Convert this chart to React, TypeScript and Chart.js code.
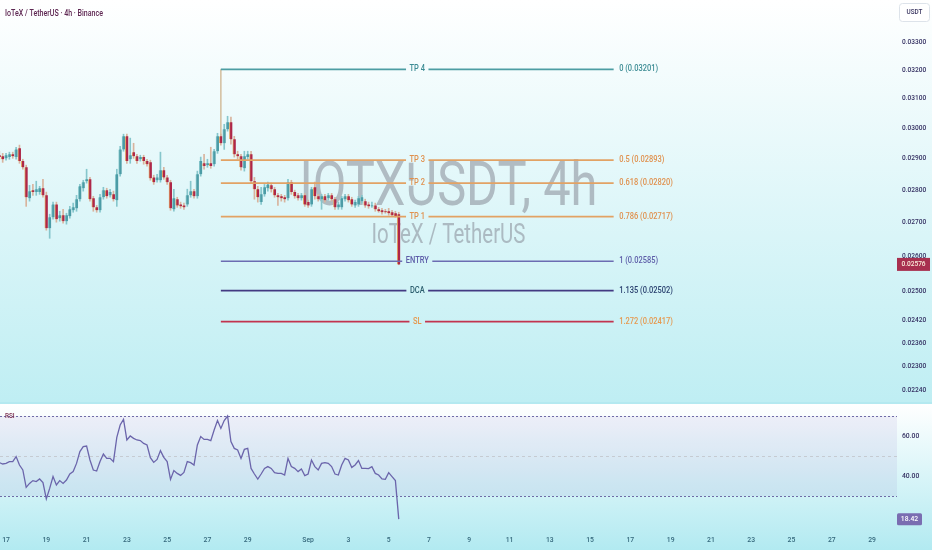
import React, { useEffect, useRef } from "react";
import { Chart, registerables } from "chart.js";

Chart.register(...registerables);

// ---------- time axis (days counted from 17 Aug 00:00, 4h bars) ----------
const FIRST_BAR_DAY = -1 / 3; // 16 Aug 16:00
const BAR_DAYS = 4 / 24;
const X_MIN = -0.3;
const X_MAX = 44.24;

const DATE_TICK_DAYS = [0, 2, 4, 6, 8, 10, 12, 15, 17, 19, 21, 23, 25, 27, 29, 31, 33, 35, 37, 39, 41, 43];
const DATE_TICK_LABELS = ["17", "19", "21", "23", "25", "27", "29", "Sep", "3", "5", "7", "9", "11", "13", "15", "17", "19", "21", "23", "25", "27", "29"];

// ---------- IOTXUSDT 4h candles ----------
const OPEN = [
  0.02909, 0.02906, 0.02899, 0.02903, 0.02912, 0.02903, 0.02932, 0.02890, 0.02870, 0.02773,
  0.02798, 0.02792, 0.02792, 0.02804, 0.02782, 0.02682, 0.02715, 0.02754, 0.02712, 0.02721,
  0.02703, 0.02718, 0.02736, 0.02742, 0.02770, 0.02804, 0.02826, 0.02832, 0.02773, 0.02745,
  0.02736, 0.02776, 0.02798, 0.02782, 0.02785, 0.02767, 0.02848, 0.02928, 0.02971, 0.02896,
  0.02919, 0.02906, 0.02896, 0.02903, 0.02890, 0.02886, 0.02838, 0.02829, 0.02829, 0.02861,
  0.02838, 0.02823, 0.02739, 0.02770, 0.02754, 0.02751, 0.02754, 0.02782, 0.02795, 0.02779,
  0.02848, 0.02883, 0.02877, 0.02883, 0.02880, 0.02922, 0.02971, 0.02948, 0.02994, 0.03018,
  0.02961, 0.02912, 0.02906, 0.02867, 0.02903, 0.02912, 0.02826, 0.02801, 0.02761, 0.02785,
  0.02804, 0.02813, 0.02801, 0.02782, 0.02779, 0.02776, 0.02773, 0.02823, 0.02792, 0.02782,
  0.02773, 0.02782, 0.02761, 0.02754, 0.02807, 0.02779, 0.02770, 0.02779, 0.02773, 0.02782,
  0.02770, 0.02745, 0.02745, 0.02770, 0.02779, 0.02770, 0.02751, 0.02754, 0.02764, 0.02764,
  0.02754, 0.02748, 0.02751, 0.02739, 0.02736, 0.02733, 0.02733, 0.02730, 0.02727, 0.02724,
];
const HIGH = [
  0.02922, 0.02915, 0.02915, 0.02919, 0.02919, 0.02935, 0.02942, 0.02896, 0.02877, 0.02813,
  0.02816, 0.02826, 0.02810, 0.02832, 0.02792, 0.02724, 0.02761, 0.02761, 0.02733, 0.02739,
  0.02727, 0.02748, 0.02758, 0.02782, 0.02816, 0.02829, 0.02864, 0.02838, 0.02779, 0.02751,
  0.02785, 0.02807, 0.02804, 0.02801, 0.02795, 0.02864, 0.02938, 0.02978, 0.02978, 0.02965,
  0.02948, 0.02912, 0.02909, 0.02909, 0.02896, 0.02893, 0.02845, 0.02848, 0.02919, 0.02870,
  0.02845, 0.02829, 0.02801, 0.02776, 0.02761, 0.02758, 0.02801, 0.02826, 0.02801, 0.02858,
  0.02903, 0.02912, 0.02896, 0.02935, 0.02928, 0.02981, 0.02978, 0.03011, 0.03038, 0.03035,
  0.02971, 0.02922, 0.02912, 0.02922, 0.02922, 0.02922, 0.02838, 0.02810, 0.02807, 0.02816,
  0.02823, 0.02820, 0.02807, 0.02788, 0.02785, 0.02782, 0.02832, 0.02829, 0.02798, 0.02788,
  0.02788, 0.02788, 0.02767, 0.02807, 0.02823, 0.02785, 0.02785, 0.02785, 0.02788, 0.02788,
  0.02776, 0.02761, 0.02779, 0.02785, 0.02785, 0.02776, 0.02767, 0.02779, 0.02782, 0.02770,
  0.02761, 0.02761, 0.02758, 0.02745, 0.02742, 0.02739, 0.02742, 0.02736, 0.02733, 0.02730,
];
const LOW = [
  0.02896, 0.02886, 0.02893, 0.02896, 0.02899, 0.02896, 0.02883, 0.02864, 0.02748, 0.02764,
  0.02782, 0.02782, 0.02785, 0.02776, 0.02676, 0.02652, 0.02709, 0.02700, 0.02703, 0.02697,
  0.02694, 0.02712, 0.02730, 0.02733, 0.02764, 0.02795, 0.02820, 0.02764, 0.02733, 0.02730,
  0.02730, 0.02770, 0.02773, 0.02776, 0.02764, 0.02748, 0.02842, 0.02922, 0.02883, 0.02883,
  0.02899, 0.02883, 0.02890, 0.02880, 0.02874, 0.02829, 0.02816, 0.02823, 0.02823, 0.02832,
  0.02816, 0.02736, 0.02733, 0.02745, 0.02742, 0.02739, 0.02748, 0.02776, 0.02773, 0.02773,
  0.02842, 0.02864, 0.02870, 0.02867, 0.02874, 0.02915, 0.02942, 0.02928, 0.02988, 0.02945,
  0.02903, 0.02896, 0.02861, 0.02858, 0.02896, 0.02820, 0.02770, 0.02761, 0.02754, 0.02779,
  0.02795, 0.02792, 0.02776, 0.02751, 0.02764, 0.02761, 0.02767, 0.02785, 0.02773, 0.02767,
  0.02767, 0.02748, 0.02745, 0.02748, 0.02770, 0.02764, 0.02739, 0.02761, 0.02767, 0.02764,
  0.02739, 0.02739, 0.02739, 0.02764, 0.02761, 0.02748, 0.02745, 0.02748, 0.02758, 0.02745,
  0.02742, 0.02745, 0.02733, 0.02730, 0.02724, 0.02727, 0.02721, 0.02718, 0.02715, 0.02575,
];
const CLOSE = [
  0.02903, 0.02896, 0.02909, 0.02912, 0.02906, 0.02928, 0.02890, 0.02870, 0.02776, 0.02795,
  0.02792, 0.02801, 0.02804, 0.02782, 0.02682, 0.02715, 0.02754, 0.02709, 0.02721, 0.02703,
  0.02721, 0.02739, 0.02745, 0.02770, 0.02810, 0.02823, 0.02832, 0.02770, 0.02745, 0.02736,
  0.02776, 0.02798, 0.02779, 0.02792, 0.02770, 0.02848, 0.02928, 0.02971, 0.02890, 0.02909,
  0.02906, 0.02890, 0.02903, 0.02890, 0.02880, 0.02835, 0.02823, 0.02838, 0.02861, 0.02838,
  0.02823, 0.02742, 0.02773, 0.02751, 0.02748, 0.02745, 0.02782, 0.02795, 0.02779, 0.02848,
  0.02890, 0.02874, 0.02883, 0.02874, 0.02922, 0.02971, 0.02948, 0.02994, 0.03018, 0.02961,
  0.02912, 0.02906, 0.02870, 0.02906, 0.02912, 0.02826, 0.02801, 0.02776, 0.02785, 0.02807,
  0.02816, 0.02801, 0.02782, 0.02776, 0.02773, 0.02770, 0.02823, 0.02792, 0.02779, 0.02773,
  0.02782, 0.02754, 0.02751, 0.02801, 0.02779, 0.02770, 0.02779, 0.02767, 0.02782, 0.02770,
  0.02745, 0.02754, 0.02773, 0.02779, 0.02767, 0.02754, 0.02761, 0.02773, 0.02776, 0.02751,
  0.02748, 0.02751, 0.02739, 0.02733, 0.02730, 0.02730, 0.02727, 0.02721, 0.02718, 0.02576,
];

// ---------- RSI(14) ----------
const RSI = [
  46.7, 46, 46.3, 47.2, 47.2, 49.7, 45.5, 43, 34.3, 36.3,
  37.7, 37.2, 38.5, 36.7, 28.5, 33.8, 39.7, 35.5, 37.7, 36.3,
  38, 41, 42.2, 46.3, 52.2, 54.7, 55, 48, 43, 42.5,
  47.2, 51, 48.8, 48.8, 47.2, 59.3, 65.5, 68.3, 58, 60,
  58.8, 58, 57.7, 56.3, 55.5, 49.2, 46.8, 48.3, 52.7, 49.3,
  47.2, 38.3, 42.7, 41.3, 40.3, 41.8, 47.2, 46.7, 45.5, 55.5,
  59.7, 58.3, 58.3, 57.7, 63, 67.7, 63.8, 67.7, 70, 57.2,
  53.8, 53, 48.8, 53.3, 53.8, 43.8, 41, 38.5, 41, 43.8,
  44.7, 43.8, 41.7, 41.3, 41.3, 40.5, 48.8, 44.7, 43.8, 42.2,
  43.5, 40.2, 41, 48, 44.7, 43, 46.3, 46.7, 46.3, 44.7,
  41, 40.5, 45.5, 48.8, 48, 44.3, 45.5, 47.7, 43.8, 43.8,
  43.7, 44.7, 41.3, 40.5, 38.5, 38.3, 41.7, 39.7, 37.7, 18.42,
];
const RSI_LEVELS = [70, 50, 30];
const RSI_TICKS = [60, 40];
const RSI_MIN = 12;
const RSI_MAX = 76;

// ---------- price axis ----------
const PRICE_TICKS = [0.033, 0.032, 0.031, 0.03, 0.029, 0.028, 0.027, 0.026, 0.025, 0.0242, 0.0236, 0.023, 0.0224];
const PRICE_MIN = 0.0221;
const PRICE_MAX = 0.03458;

// ---------- Fibonacci / trade plan ----------
const FIB_START_DAY = 10 + 16 / 24; // 27 Aug 16:00
const FIB_END_DAY = 30.17;
const FIB_NAMES = ["TP 4", "TP 3", "TP 2", "TP 1", "ENTRY", "DCA", "SL"];
const FIB_RATIOS = ["0", "0.5", "0.618", "0.786", "1", "1.135", "1.272"];
const FIB_PRICES = [0.03201, 0.02893, 0.0282, 0.02717, 0.02585, 0.02502, 0.02417];
const FIB_ANCHOR_LOW = 0.0296;

// ---------- texts ----------
const TITLE = "IoTeX / TetherUS · 4h · Binance";
const WATERMARK_1 = "IOTXUSDT, 4h";
const WATERMARK_2 = "IoTeX / TetherUS";
const CURRENCY = "USDT";

// ---------- styles ----------
const FONT = 'Roboto, "Noto Sans", "DejaVu Sans", sans-serif';
const UP_BODY = "#4c9ca6";
const DOWN_BODY = "#ae2749";
const UP_EDGE = "#86c6cc";
const DOWN_EDGE = "#e2a062";
const UP_WICK = "#86c6cc";
const DOWN_WICK = "#d8b39d";
const FIB_LINE_COLORS = ["#4c9da3", "#e2a264", "#e2a264", "#e2a264", "#6c6cb2", "#433a82", "#c2344f"];
const FIB_NAME_COLORS = ["#3c8c94", "#e0914e", "#e0914e", "#e0914e", "#5c5ca8", "#2c5e6e", "#e6994f"];
const FIB_VALUE_COLORS = ["#3c8c94", "#e0914e", "#e0914e", "#e0914e", "#5c5ca8", "#2b4270", "#e6994f"];
const AXIS_TEXT = "#343062";
const DATE_TEXT = "#33667a";

function drawText(ctx: any, s: string, x: number, y: number, size: number, color: string, align = "left", sx = 1, weight = "500") {
  ctx.save();
  ctx.font = `${weight} ${size}px ${FONT}`;
  ctx.fillStyle = color;
  ctx.textAlign = "left";
  ctx.textBaseline = "middle";
  const w = ctx.measureText(s).width * sx;
  const x0 = align === "center" ? x - w / 2 : align === "right" ? x - w : x;
  ctx.translate(x0, y);
  ctx.scale(sx, 1);
  ctx.fillText(s, 0, 0);
  ctx.restore();
  return w;
}

function fitText(ctx: any, s: string, x: number, baseline: number, size: number, targetW: number, color: string, align = "left", weight = "400") {
  ctx.save();
  ctx.font = `${weight} ${size}px ${FONT}`;
  ctx.fillStyle = color;
  ctx.textAlign = "left";
  ctx.textBaseline = "alphabetic";
  const m = ctx.measureText(s).width;
  const sx = targetW / m;
  const x0 = align === "center" ? x - targetW / 2 : x;
  ctx.translate(x0, baseline);
  ctx.scale(sx, 1);
  ctx.fillText(s, 0, 0);
  ctx.restore();
}

function measure(ctx: any, s: string, size: number, sx: number, weight = "500") {
  ctx.save();
  ctx.font = `${weight} ${size}px ${FONT}`;
  const w = ctx.measureText(s).width * sx;
  ctx.restore();
  return w;
}

const BAR_TIMES = OPEN.map((_, i) => FIRST_BAR_DAY + i * BAR_DAYS);

function mainConfig(): any {
  const up = OPEN.map((o, i) => CLOSE[i] >= o);
  const mainPlugin = {
    id: "mainDeco",
    beforeDraw(chart: any) {
      const { ctx, width, height } = chart;
      const g = ctx.createLinearGradient(0, 0, 0, height);
      g.addColorStop(0, "#ffffff");
      g.addColorStop(1, "#bfeef3");
      chart.$bg = g;
      ctx.save();
      ctx.fillStyle = g;
      ctx.fillRect(0, 0, width, height);
      ctx.restore();
    },
    beforeDatasetsDraw(chart: any) {
      const { ctx, chartArea } = chart;
      const cx = (chartArea.left + chartArea.right) / 2;
      fitText(ctx, WATERMARK_1, cx, 205, 62, 298, "rgba(125,128,140,0.5)", "center");
      fitText(ctx, WATERMARK_2, cx, 243, 28, 154, "rgba(125,128,140,0.5)", "center");
    },
    afterDatasetsDraw(chart: any) {
      const { ctx } = chart;
      const xs = chart.scales.x;
      const ys = chart.scales.y;
      const x1 = xs.getPixelForValue(FIB_START_DAY);
      const x2 = xs.getPixelForValue(FIB_END_DAY);
      const cx = (x1 + x2) / 2;
      const size = 8.5;
      const sx = 0.88;
      FIB_PRICES.forEach((p, i) => {
        const y = ys.getPixelForValue(p);
        const w = measure(ctx, FIB_NAMES[i], size, sx);
        ctx.save();
        ctx.fillStyle = chart.$bg;
        ctx.fillRect(cx - w / 2 - 3.5, y - 2.5, w + 7, 5);
        ctx.restore();
        drawText(ctx, FIB_NAMES[i], cx, y, size, FIB_NAME_COLORS[i], "center", sx);
        drawText(ctx, `${FIB_RATIOS[i]} (${p.toFixed(5)})`, x2 + 5.5, y, size, FIB_VALUE_COLORS[i], "left", sx);
      });
    },
    afterDraw(chart: any) {
      const { ctx, chartArea } = chart;
      const ys = chart.scales.y;
      PRICE_TICKS.forEach((v) => {
        drawText(ctx, v.toFixed(5), chartArea.right + 5, ys.getPixelForValue(v), 8, AXIS_TEXT, "left", 0.82);
      });
      const last = CLOSE[CLOSE.length - 1];
      const yl = ys.getPixelForValue(last);
      ctx.save();
      ctx.fillStyle = "#a8304f";
      ctx.fillRect(chartArea.right, yl - 6.5, 33, 13);
      ctx.restore();
      drawText(ctx, last.toFixed(5), chartArea.right + 16.5, yl, 8, "#fbefdc", "center", 0.82);
      ctx.save();
      ctx.fillStyle = "#ffffff";
      ctx.strokeStyle = "#dde3ea";
      ctx.lineWidth = 1;
      ctx.beginPath();
      ctx.roundRect(899.5, 3.5, 30, 18, 3);
      ctx.fill();
      ctx.stroke();
      ctx.restore();
      drawText(ctx, CURRENCY, 914.5, 12.5, 7.5, "#3a3560", "center", 0.85);
      fitText(ctx, TITLE, 5, 16, 8.5, 98, "#5e2752", "left", "500");
    },
  };

  return {
    type: "bar",
    data: {
      datasets: [
        {
          type: "line",
          data: [
            { x: FIB_START_DAY, y: FIB_PRICES[0] },
            { x: FIB_START_DAY, y: FIB_ANCHOR_LOW },
          ],
          borderColor: "#d3bd9d",
          borderWidth: 1.5,
          pointRadius: 0,
          order: 10,
        },
        {
          type: "bar",
          data: BAR_TIMES.map((t, i) => ({ x: t, y: [LOW[i], HIGH[i]] })),
          backgroundColor: up.map((u) => (u ? UP_WICK : DOWN_WICK)),
          barThickness: 1,
          grouped: false,
          order: 6,
        },
        {
          type: "bar",
          data: BAR_TIMES.map((t, i) => ({ x: t, y: [OPEN[i], CLOSE[i]] })),
          backgroundColor: up.map((u) => (u ? UP_BODY : DOWN_BODY)),
          borderColor: up.map((u) => (u ? UP_EDGE : DOWN_EDGE)),
          borderWidth: { left: 1, right: 0, top: 0, bottom: 0 },
          borderSkipped: false,
          barThickness: 3,
          grouped: false,
          order: 5,
        },
        ...FIB_PRICES.map((p, i) => ({
          type: "line",
          data: [
            { x: FIB_START_DAY, y: p },
            { x: FIB_END_DAY, y: p },
          ],
          borderColor: FIB_LINE_COLORS[i],
          borderWidth: 1.7,
          pointRadius: 0,
          order: 1,
        })),
      ],
    },
    options: {
      responsive: false,
      animation: false,
      events: [],
      layout: { padding: 0 },
      plugins: { legend: { display: false }, tooltip: { enabled: false } },
      scales: {
        x: {
          type: "linear",
          min: X_MIN,
          max: X_MAX,
          offset: false,
          display: false,
        },
        y: {
          type: "logarithmic",
          position: "right",
          min: PRICE_MIN,
          max: PRICE_MAX,
          bounds: "data",
          grid: { display: false, drawTicks: false },
          border: { display: false },
          ticks: { display: false },
          afterBuildTicks: (s: any) => {
            s.ticks = PRICE_TICKS.map((v) => ({ value: v }));
          },
          afterFit: (s: any) => {
            s.width = 35;
          },
        },
      },
    },
    plugins: [mainPlugin],
  };
}

function rsiConfig(): any {
  const rsiPlugin = {
    id: "rsiDeco",
    beforeDraw(chart: any) {
      const { ctx, width, height, chartArea } = chart;
      const ys = chart.scales.y;
      const g = ctx.createLinearGradient(0, 0, 0, height);
      g.addColorStop(0, "#ffffff");
      g.addColorStop(1, "#b2eaf1");
      ctx.save();
      ctx.fillStyle = g;
      ctx.fillRect(0, 0, width, height);
      const yTop = ys.getPixelForValue(RSI_LEVELS[0]);
      const yBot = ys.getPixelForValue(RSI_LEVELS[2]);
      ctx.fillStyle = "rgba(126,87,194,0.09)";
      ctx.fillRect(chartArea.left, yTop, chartArea.right - chartArea.left, yBot - yTop);
      RSI_LEVELS.forEach((lv, i) => {
        const y = Math.round(ys.getPixelForValue(lv)) + 0.5;
        ctx.beginPath();
        ctx.setLineDash(i === 1 ? [3, 3] : [2, 2]);
        ctx.strokeStyle = i === 1 ? "#c6cbd2" : "#6f6ba7";
        ctx.lineWidth = 1;
        ctx.moveTo(chartArea.left, y);
        ctx.lineTo(chartArea.right, y);
        ctx.stroke();
      });
      ctx.restore();
    },
    afterDraw(chart: any) {
      const { ctx, chartArea } = chart;
      const xs = chart.scales.x;
      const ys = chart.scales.y;
      RSI_TICKS.forEach((v) => {
        drawText(ctx, v.toFixed(2), chartArea.right + 5, ys.getPixelForValue(v), 8, AXIS_TEXT, "left", 0.85);
      });
      const last = RSI[RSI.length - 1];
      const yl = ys.getPixelForValue(last);
      ctx.save();
      ctx.fillStyle = "#7a6db1";
      ctx.beginPath();
      ctx.roundRect(chartArea.right, yl - 6, 25, 12, 1.5);
      ctx.fill();
      ctx.restore();
      drawText(ctx, last.toFixed(2), chartArea.right + 12.5, yl, 8, "#ffffff", "center", 0.85);
      drawText(ctx, "RSI", 5, 12, 7.5, "#7a2e4f", "left", 0.85);
      DATE_TICK_DAYS.forEach((d, i) => {
        drawText(ctx, DATE_TICK_LABELS[i], xs.getPixelForValue(d), chartArea.bottom + 8, 8, DATE_TEXT, "center", 0.85);
      });
    },
  };
  return {
    type: "line",
    data: {
      datasets: [
        {
          data: BAR_TIMES.map((t, i) => ({ x: t, y: RSI[i] })),
          borderColor: "#6b65ab",
          borderWidth: 1.3,
          pointRadius: 0,
          tension: 0,
        },
      ],
    },
    options: {
      responsive: false,
      animation: false,
      events: [],
      layout: { padding: 0 },
      plugins: { legend: { display: false }, tooltip: { enabled: false } },
      scales: {
        x: {
          type: "linear",
          min: X_MIN,
          max: X_MAX,
          offset: false,
          grid: { display: false, drawTicks: false },
          border: { display: false },
          ticks: { display: false },
          afterBuildTicks: (s: any) => {
            s.ticks = DATE_TICK_DAYS.map((v) => ({ value: v }));
          },
          afterFit: (s: any) => {
            s.height = 18;
          },
        },
        y: {
          type: "linear",
          position: "right",
          min: RSI_MIN,
          max: RSI_MAX,
          grid: { display: false, drawTicks: false },
          border: { display: false },
          ticks: { display: false },
          afterFit: (s: any) => {
            s.width = 35;
          },
        },
      },
    },
    plugins: [rsiPlugin],
  };
}

export default function App() {
  const mainRef = useRef<HTMLCanvasElement>(null);
  const rsiRef = useRef<HTMLCanvasElement>(null);
  useEffect(() => {
    document.body.style.margin = "0";
    const c1 = new Chart(mainRef.current as HTMLCanvasElement, mainConfig());
    const c2 = new Chart(rsiRef.current as HTMLCanvasElement, rsiConfig());
    return () => {
      c1.destroy();
      c2.destroy();
    };
  }, []);
  return (
    <div style={{ position: "absolute", left: 0, top: 0, width: 932, height: 550, background: "#b4e9f0", overflow: "hidden" }}>
      <canvas ref={mainRef} width={932} height={402} style={{ position: "absolute", left: 0, top: 0, width: 932, height: 402 }} />
      <canvas ref={rsiRef} width={932} height={146} style={{ position: "absolute", left: 0, top: 404, width: 932, height: 146 }} />
    </div>
  );
}
